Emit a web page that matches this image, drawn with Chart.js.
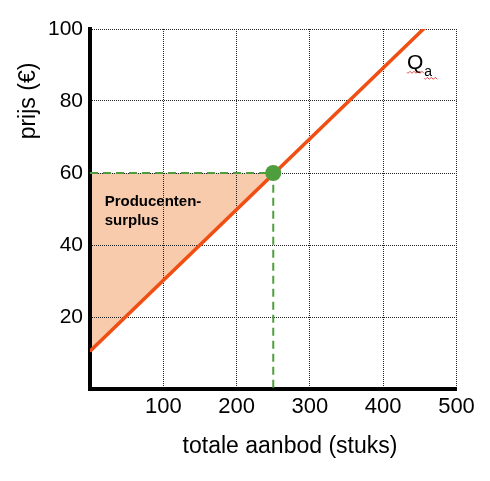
<!DOCTYPE html>
<html>
<head>
<meta charset="utf-8">
<script src="https://cdn.jsdelivr.net/npm/chart.js@4"></script>
<style>
    body { margin: 0; background: #fff; }
</style>
</head>
<body>
<canvas id="chart" width="490" height="481"></canvas>
<script>
const X_TICKS = [0, 100, 200, 300, 400, 500];
const Y_TICKS = [0, 20, 40, 60, 80, 100];
const supplyLine = [{ x: 0, y: 10.5 }, { x: 460, y: 101 }];
const surplusEdge = [{ x: 0, y: 10.5 }, { x: 250, y: 60 }];
const equilibrium = [{ x: 250, y: 60 }];
const guideLines = [{ x: 0, y: 60 }, { x: 250, y: 60 }, { x: 250, y: 0 }];

const FONT = "'Liberation Sans', Arial, sans-serif";

// titels en labels als tekst op het canvas
const textPlugin = {
    id: 'texts',
    afterDatasetsDraw(chart) {
        const ctx = chart.ctx;
        const xs = chart.scales.x;
        const ys = chart.scales.y;
        ctx.save();
        ctx.fillStyle = '#000';

        ctx.font = 'bold 15px ' + FONT;
        ctx.textAlign = 'left';
        ctx.textBaseline = 'alphabetic';
        const px = xs.getPixelForValue(20);
        ctx.fillText('Producenten-', px, ys.getPixelForValue(50.8));
        ctx.fillText('surplus', px, ys.getPixelForValue(45.5));

        const qx = xs.getPixelForValue(432.5);
        const qy = ys.getPixelForValue(88.8);
        ctx.font = '21px ' + FONT;
        ctx.fillText('Q', qx, qy);
        const qw = ctx.measureText('Q').width;
        ctx.font = '14px ' + FONT;
        ctx.fillText('a', qx + qw + 1, qy + 7);
        const aw = ctx.measureText('a').width;

        // rode kronkellijn van de spellingcontrole
        ctx.strokeStyle = '#e02020';
        ctx.lineWidth = 0.8;
        const wave = (x1, x2, y) => {
            ctx.beginPath();
            ctx.moveTo(x1, y);
            for (let x = x1; x < x2; x += 2) {
                ctx.lineTo(x + 1, y + ((x - x1) / 2 % 2 === 0 ? 1 : -1));
            }
            ctx.stroke();
        };
        wave(qx, qx + qw, qy + 3);
        wave(qx + qw + 1, qx + qw + 3 + aw + 3, qy + 9);

        ctx.font = '23px ' + FONT;
        ctx.textAlign = 'center';
        ctx.fillText('totale aanbod (stuks)', 290, 453);

        ctx.translate(29, 101);
        ctx.rotate(-Math.PI / 2);
        ctx.textBaseline = 'middle';
        ctx.fillText('prijs (€)', 0, 0);
        ctx.restore();
    }
};

new Chart(document.getElementById('chart'), {
    type: 'scatter',
    data: {
        datasets: [
            {
                data: equilibrium,
                order: 0,
                pointRadius: 8,
                pointBackgroundColor: '#4f9e3e',
                pointBorderWidth: 0
            },
            {
                data: supplyLine,
                order: 1,
                showLine: true,
                borderColor: '#f04e12',
                borderWidth: 3.5,
                pointRadius: 0
            },
            {
                data: guideLines,
                order: 2,
                showLine: true,
                borderColor: '#4f9e3e',
                borderWidth: 2,
                borderDash: [8, 5],
                pointRadius: 0
            },
            {
                data: surplusEdge,
                order: 3,
                showLine: true,
                borderWidth: 0,
                pointRadius: 0,
                backgroundColor: '#f8cbad',
                fill: { target: { value: 60 } }
            }
        ]
    },
    options: {
        responsive: false,
        animation: false,
        layout: { padding: { top: 29, right: 33.5, left: 0, bottom: 0 } },
        plugins: {
            legend: { display: false },
            tooltip: { enabled: false },
            filler: { drawTime: 'beforeDraw' }
        },
        scales: {
            x: {
                type: 'linear',
                min: 0,
                max: 500,
                afterBuildTicks: s => { s.ticks = X_TICKS.map(v => ({ value: v })); },
                afterFit: s => { s.height = 92; },
                grid: { color: '#222', lineWidth: 1, drawTicks: false },
                border: { color: '#000', width: 4, dash: [1, 1] },
                ticks: {
                    padding: 5,
                    color: '#000',
                    font: { family: FONT, size: 22 },
                    callback: v => (v === 0 ? '' : v)
                }
            },
            y: {
                type: 'linear',
                min: 0,
                max: 100,
                afterBuildTicks: s => { s.ticks = Y_TICKS.map(v => ({ value: v })); },
                afterFit: s => { s.width = 90; },
                grid: { color: '#222', lineWidth: 1, drawTicks: false },
                border: { color: '#000', width: 4, dash: [1, 1] },
                ticks: {
                    padding: 7,
                    color: '#000',
                    font: { family: FONT, size: 21 },
                    callback: v => (v === 0 ? '' : v)
                }
            }
        }
    },
    plugins: [textPlugin]
});
</script>
</body>
</html>
